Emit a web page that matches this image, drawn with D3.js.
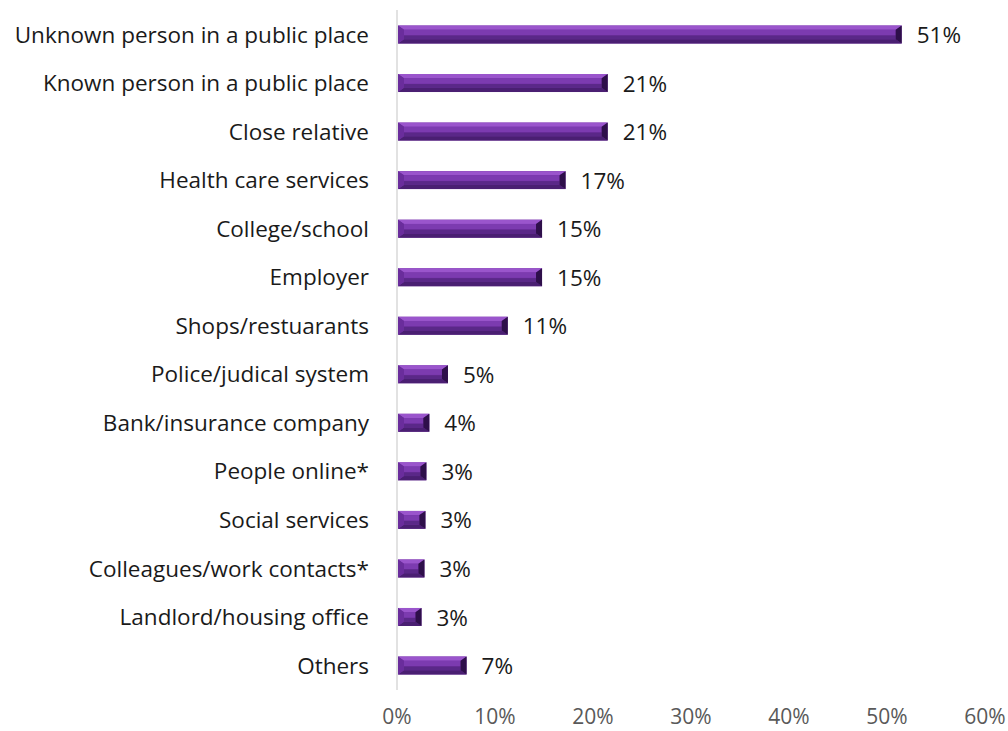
<!DOCTYPE html>
<html>
<head>
<meta charset="utf-8">
<script src="https://cdn.jsdelivr.net/npm/d3@7"></script>
<style>
	body { margin: 0; background: #fff; }
	svg text { font-family: "Open Sans", sans-serif; }
</style>
</head>
<body>
<script>
var width = 1008,
	height = 731;

// Data
var categories = ["Unknown person in a public place", "Known person in a public place", "Close relative ",
	"Health care services", "College/school", "Employer", "Shops/restuarants", "Police/judical system",
	"Bank/insurance company", "People online*", "Social services", "Colleagues/work contacts*",
	"Landlord/housing office", "Others"];
var values = [51.5, 21.5, 21.5, 17.2, 14.8, 14.8, 11.3, 5.2, 3.3, 3.0, 2.9, 2.8, 2.5, 7.1];
var valueLabels = ["51%", "21%", "21%", "17%", "15%", "15%", "11%", "5%", "4%", "3%", "3%", "3%", "3%", "7%"];
var ticks = [0, 10, 20, 30, 40, 50, 60];

var x = d3.scaleLinear()
	.domain([0, 60])
	.range([397, 985]);

var y = d3.scaleBand()
	.domain(categories)
	.range([10, 690])
	.paddingInner(0.63)
	.paddingOuter(0.32);

var svg = d3.select("body").append("svg")
	.attr("width", width)
	.attr("height", height);

// vertical axis line
svg.append("line")
	.attr("x1", x(0)).attr("x2", x(0))
	.attr("y1", 10).attr("y2", 690)
	.attr("stroke", "#d9d9d9")
	.attr("stroke-width", 1.5);

// x tick labels
svg.selectAll(".tick")
	.data(ticks)
	.enter().append("text")
	.attr("x", function(d) { return x(d); })
	.attr("y", 724)
	.attr("text-anchor", "middle")
	.attr("font-size", 21)
	.attr("fill", "#595959")
	.text(function(d) { return d + "%"; });

// category labels
svg.selectAll(".cat")
	.data(categories)
	.enter().append("text")
	.attr("x", 369)
	.attr("y", function(d) { return y(d) + y.bandwidth() / 2; })
	.attr("dy", "0.36em")
	.attr("text-anchor", "end")
	.attr("font-size", 22.5)
	.attr("fill", "#1a1a1a")
	.text(function(d) { return d; });

// bevelled bars
var bw = y.bandwidth();
var bars = svg.selectAll(".bar")
	.data(categories.map(function(c, i) { return { c: c, v: values[i], l: valueLabels[i] }; }))
	.enter().append("g");

function poly(pts) { return pts.map(function(p) { return p.join(","); }).join(" "); }

bars.each(function(d) {
	var g = d3.select(this);
	var x0 = x(0) + 1, x1 = x(d.v), y0 = y(d.c), y1 = y0 + bw;
	var b = Math.min(6, (x1 - x0) / 2);
	var ym = y0 + bw / 2;
	g.append("rect").attr("x", x0).attr("y", y0).attr("width", x1 - x0).attr("height", bw).attr("fill", "#7030a0");
	// top face
	g.append("polygon").attr("points", poly([[x0, y0], [x1, y0], [x1 - b, y0 + b * 0.7], [x0 + b, y0 + b * 0.7]])).attr("fill", "#9a55cc");
	// middle highlight
	g.append("rect").attr("x", x0 + b).attr("y", y0 + b * 0.7).attr("width", Math.max(0, x1 - x0 - 2 * b)).attr("height", bw * 0.3).attr("fill", "#7c3bb0");
	// bottom face
	g.append("polygon").attr("points", poly([[x0, y1], [x1, y1], [x1 - b, y1 - b * 0.7], [x0 + b, y1 - b * 0.7]])).attr("fill", "#4a1f72");
	g.append("rect").attr("x", x0 + b).attr("y", ym + 1).attr("width", Math.max(0, x1 - x0 - 2 * b)).attr("height", bw / 2 - b * 0.7 - 1).attr("fill", "#5a2888");
	// left end
	g.append("polygon").attr("points", poly([[x0, y0], [x0 + b, y0 + b * 0.7], [x0 + b, y1 - b * 0.7], [x0, y1]])).attr("fill", "#6a2d9c");
	// right end
	g.append("polygon").attr("points", poly([[x1, y0], [x1 - b, y0 + b * 0.7], [x1 - b, y1 - b * 0.7], [x1, y1]])).attr("fill", "#2e0f4a");
	g.append("text")
		.attr("x", x1 + 15)
		.attr("y", ym)
		.attr("dy", "0.38em")
		.attr("font-size", 22.5)
		.attr("fill", "#1a1a1a")
		.text(d.l);
});
</script>
</body>
</html>
